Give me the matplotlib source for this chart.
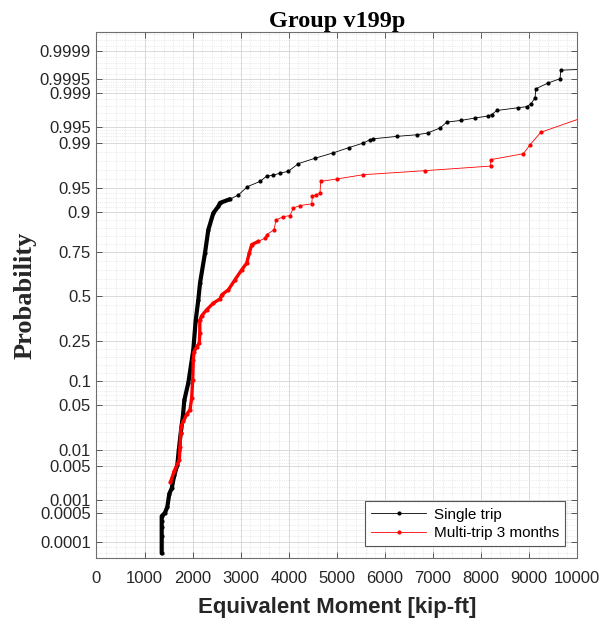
import numpy as np
import matplotlib
matplotlib.use("Agg")
import matplotlib.pyplot as plt
from matplotlib.ticker import FixedLocator, MultipleLocator
from statistics import NormalDist

# values: (moment, plotting probability)
single_moment = [1357, 1357, 1357, 1357, 1357, 1425, 1474, 1516, 1565, 1620,
                 1682, 1712, 1752, 1800, 1828, 1911, 2015, 2065, 2119, 2154,
                 2258, 2327, 2431, 2535, 2570, 2778, 2951, 3140, 3403, 3542,
                 3680, 3819, 3990, 4200, 4550, 4928, 5250, 5553, 5692, 5761,
                 6248, 6664, 6890, 7149, 7289, 7580, 7877, 8154, 8224, 8329,
                 8779, 8953, 9040, 9126, 9140, 9403, 9646, 9661, 11500]
single_prob = [4.9e-5, 1.4e-4, 2.4e-4, 3.4e-4, 4.3e-4, 5.2e-4, 7.1e-4, 1.4e-3, 1.8e-3, 3.4e-3,
               5.3e-3, 9.9e-3, 0.019, 0.036, 0.058, 0.095, 0.21, 0.36, 0.48, 0.58,
               0.745, 0.844, 0.897, 0.914, 0.922, 0.930, 0.938, 0.952, 0.9595, 0.966,
               0.967, 0.9693, 0.9711, 0.978, 0.982, 0.9853, 0.988, 0.990, 0.9913, 0.9916,
               0.9924, 0.9929, 0.9934, 0.9947, 0.9959, 0.9962, 0.9966, 0.9969, 0.9971, 0.9976,
               0.9979, 0.9980, 0.99826, 0.9987, 0.99918, 0.9994, 0.99952, 0.9997, 0.99975]

multi_moment = [1537, 1615, 1724, 1738, 1752, 1752, 1807, 1877, 1946, 1981,
                2002, 2015, 2029, 2085, 2139, 2150, 2150, 2189, 2293, 2431,
                2570, 2605, 2743, 2882, 3022, 3126, 3180, 3230, 3367, 3507,
                3542, 3694, 3736, 3888, 4027, 4096, 4235, 4479, 4492, 4568,
                4651, 4666, 4999, 5553, 6837, 8203, 8203, 8883, 9022, 9244, 10650]
multi_prob = [0.0024, 0.0040, 0.0066, 0.0114, 0.019, 0.024, 0.029, 0.037, 0.043, 0.062,
              0.103, 0.168, 0.20, 0.224, 0.239, 0.289, 0.36, 0.385, 0.42, 0.46,
              0.485, 0.51, 0.54, 0.60, 0.657, 0.694, 0.745, 0.784, 0.798, 0.812,
              0.826, 0.844, 0.877, 0.887, 0.890, 0.910, 0.916, 0.920, 0.936, 0.938,
              0.942, 0.9595, 0.9626, 0.9676, 0.9718, 0.976, 0.981, 0.9848, 0.9893, 0.9936, 0.9978]

prob_ticks = [0.0001, 0.0005, 0.001, 0.005, 0.01, 0.05, 0.1, 0.25, 0.5,
              0.75, 0.9, 0.95, 0.99, 0.995, 0.999, 0.9995, 0.9999]
prob_labels = ['0.0001', '0.0005', '0.001', '0.005', '0.01', '0.05', '0.1', '0.25', '0.5',
               '0.75', '0.9', '0.95', '0.99', '0.995', '0.999', '0.9995', '0.9999']

nd = NormalDist()
_ppf = np.vectorize(nd.inv_cdf, otypes=[float])
_cdf = np.vectorize(nd.cdf, otypes=[float])

def fwd(p):
    p = np.clip(np.asarray(p, dtype=float), 1e-12, 1 - 1e-12)
    return _ppf(p)

def inv(z):
    return _cdf(np.asarray(z, dtype=float))

zlo, zhi = -3.97, 4.01

# minor grid: 5 subdivisions (in z) of each tick interval, like matlab
zt = [nd.inv_cdf(t) for t in prob_ticks]
zminor = []
for a, b in zip(zt[:-1], zt[1:]):
    zminor += list(np.linspace(a, b, 6)[1:-1])
step = (zt[1] - zt[0]) / 5
z = zt[0] - step
while z > zlo:
    zminor.append(z); z -= step
step = (zt[-1] - zt[-2]) / 5
z = zt[-1] + step
while z < zhi:
    zminor.append(z); z += step
minor_probs = [nd.cdf(v) for v in zminor]

fig = plt.figure(figsize=(6.03, 6.28), dpi=100)
ax = fig.add_axes([0.160, 0.111, 0.797, 0.838])
ax.set_yscale('function', functions=(fwd, inv))

sx = np.array(single_moment); sp = np.array(single_prob)
mx = np.array(multi_moment); mp = np.array(multi_prob)

# dense part of each curve looks like a thick band of markers
ds = sp <= 0.93
dm = mp <= 0.80
ax.plot(sx[ds], sp[ds], '-', color='k', lw=3.0, solid_capstyle='round', zorder=3)
ax.plot(mx[dm], mp[dm], '-', color='#ff0000', lw=2.4, solid_capstyle='round', zorder=4)
ax.plot(sx, sp, '.-', color='k', lw=0.6, markersize=4, label='Single trip', zorder=3)
ax.plot(mx, mp, '.-', color='#ff0000', lw=0.6, markersize=4, label='Multi-trip 3 months', zorder=4)

ax.set_xlim(0, 10000)
ax.set_ylim(nd.cdf(zlo), nd.cdf(zhi))
ax.xaxis.set_major_locator(MultipleLocator(1000))
ax.xaxis.set_minor_locator(MultipleLocator(200))
ax.yaxis.set_major_locator(FixedLocator(prob_ticks))
ax.set_yticklabels(prob_labels)
ax.yaxis.set_minor_locator(FixedLocator(minor_probs))

ax.grid(True, which='major', color='#d4d4d4', lw=0.6, ls='-')
ax.grid(True, which='minor', color='#d9d9d9', lw=0.5, ls=':')
ax.set_axisbelow(True)

for sp_ in ax.spines.values():
    sp_.set_color('#6e6e6e')
    sp_.set_linewidth(0.8)
ax.tick_params(which='major', direction='in', length=4, width=0.7, color='#555555',
               top=True, right=True, labelsize=12, labelcolor='#262626')
ax.tick_params(which='minor', length=0, top=True, right=True)
ax.tick_params(axis='x', pad=9)
ax.tick_params(axis='y', pad=4)
for lab in ax.get_xticklabels() + ax.get_yticklabels():
    lab.set_family('Liberation Sans')

ax.set_title('Group v199p', family='Liberation Serif', fontweight='bold', fontsize=17.5, pad=3)
ax.set_ylabel('Probability', family='Liberation Serif', fontweight='bold', fontsize=19,
              color='#262626', labelpad=2)
ax.set_xlabel('Equivalent Moment [kip-ft]', family='Liberation Sans', fontweight='bold',
              fontsize=16, color='#262626', labelpad=8)

leg = ax.legend(loc='lower right', bbox_to_anchor=(1 - 12 / 481, 12 / 526), borderaxespad=0,
                fancybox=False, framealpha=1, edgecolor='#555555', handlelength=3.6,
                prop={'family': 'Liberation Sans', 'size': 11}, borderpad=0.4,
                labelspacing=0.3, handletextpad=0.5)
leg.get_frame().set_linewidth(0.8)

plt.savefig('out.png', dpi=100)
